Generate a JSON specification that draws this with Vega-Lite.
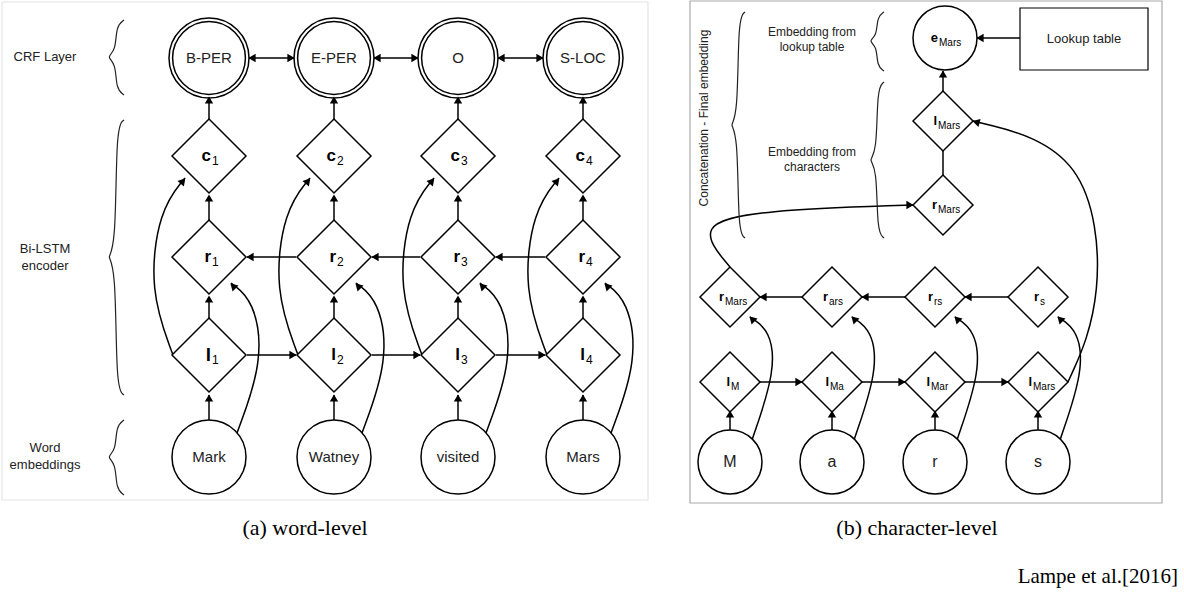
{
  "$schema": "https://vega.github.io/schema/vega-lite/v6.json",
  "width": 1184,
  "height": 595,
  "padding": 0,
  "autosize": "none",
  "background": "white",
  "config": {"view": {"stroke": null}, "font": "Liberation Sans"},
  "datasets": {
    "boxes": [
      {"x": 2, "x2": 648, "y": 2, "y2": 500, "c": "#e4e4e4"},
      {"x": 690, "x2": 1162, "y": 1, "y2": 503, "c": "#aaaaaa"},
      {"x": 1020, "x2": 1148, "y": 8, "y2": 70, "c": "#000000"}
    ],
    "nodes": [
      {"x": 209, "y": 58, "s": "circle", "z": 6400}, {"x": 209, "y": 58, "s": "circle", "z": 5300},
      {"x": 334, "y": 58, "s": "circle", "z": 6400}, {"x": 334, "y": 58, "s": "circle", "z": 5300},
      {"x": 458, "y": 58, "s": "circle", "z": 6400}, {"x": 458, "y": 58, "s": "circle", "z": 5300},
      {"x": 583, "y": 58, "s": "circle", "z": 6400}, {"x": 583, "y": 58, "s": "circle", "z": 5300},
      {"x": 209, "y": 156, "s": "diamond", "z": 5476}, {"x": 334, "y": 156, "s": "diamond", "z": 5476},
      {"x": 458, "y": 156, "s": "diamond", "z": 5476}, {"x": 583, "y": 156, "s": "diamond", "z": 5476},
      {"x": 209, "y": 257, "s": "diamond", "z": 5476}, {"x": 334, "y": 257, "s": "diamond", "z": 5476},
      {"x": 458, "y": 257, "s": "diamond", "z": 5476}, {"x": 583, "y": 257, "s": "diamond", "z": 5476},
      {"x": 209, "y": 355, "s": "diamond", "z": 5476}, {"x": 334, "y": 355, "s": "diamond", "z": 5476},
      {"x": 458, "y": 355, "s": "diamond", "z": 5476}, {"x": 583, "y": 355, "s": "diamond", "z": 5476},
      {"x": 209, "y": 457, "s": "circle", "z": 5476}, {"x": 334, "y": 457, "s": "circle", "z": 5476},
      {"x": 458, "y": 457, "s": "circle", "z": 5476}, {"x": 583, "y": 457, "s": "circle", "z": 5476},
      {"x": 945, "y": 38, "s": "circle", "z": 4096},
      {"x": 943, "y": 121, "s": "diamond", "z": 3600}, {"x": 943, "y": 205, "s": "diamond", "z": 3600},
      {"x": 730, "y": 297, "s": "diamond", "z": 3600}, {"x": 832, "y": 297, "s": "diamond", "z": 3600},
      {"x": 935, "y": 297, "s": "diamond", "z": 3600}, {"x": 1038, "y": 297, "s": "diamond", "z": 3600},
      {"x": 730, "y": 382, "s": "diamond", "z": 3600}, {"x": 832, "y": 382, "s": "diamond", "z": 3600},
      {"x": 935, "y": 382, "s": "diamond", "z": 3600}, {"x": 1038, "y": 382, "s": "diamond", "z": 3600},
      {"x": 730, "y": 462, "s": "circle", "z": 4096}, {"x": 832, "y": 462, "s": "circle", "z": 4096},
      {"x": 935, "y": 462, "s": "circle", "z": 4096}, {"x": 1038, "y": 462, "s": "circle", "z": 4096}
    ],
    "lines": [
      {"id": "a1", "k": 0, "x": 209, "y": 420}, {"id": "a1", "k": 1, "x": 209, "y": 395},
      {"id": "a2", "k": 0, "x": 334, "y": 420}, {"id": "a2", "k": 1, "x": 334, "y": 395},
      {"id": "a3", "k": 0, "x": 458, "y": 420}, {"id": "a3", "k": 1, "x": 458, "y": 395},
      {"id": "a4", "k": 0, "x": 583, "y": 420}, {"id": "a4", "k": 1, "x": 583, "y": 395},
      {"id": "b1", "k": 0, "x": 209, "y": 318}, {"id": "b1", "k": 1, "x": 209, "y": 297},
      {"id": "b2", "k": 0, "x": 334, "y": 318}, {"id": "b2", "k": 1, "x": 334, "y": 297},
      {"id": "b3", "k": 0, "x": 458, "y": 318}, {"id": "b3", "k": 1, "x": 458, "y": 297},
      {"id": "b4", "k": 0, "x": 583, "y": 318}, {"id": "b4", "k": 1, "x": 583, "y": 297},
      {"id": "c1", "k": 0, "x": 209, "y": 220}, {"id": "c1", "k": 1, "x": 209, "y": 196},
      {"id": "c2", "k": 0, "x": 334, "y": 220}, {"id": "c2", "k": 1, "x": 334, "y": 196},
      {"id": "c3", "k": 0, "x": 458, "y": 220}, {"id": "c3", "k": 1, "x": 458, "y": 196},
      {"id": "c4", "k": 0, "x": 583, "y": 220}, {"id": "c4", "k": 1, "x": 583, "y": 196},
      {"id": "d1", "k": 0, "x": 209, "y": 119}, {"id": "d1", "k": 1, "x": 209, "y": 98},
      {"id": "d2", "k": 0, "x": 334, "y": 119}, {"id": "d2", "k": 1, "x": 334, "y": 98},
      {"id": "d3", "k": 0, "x": 458, "y": 119}, {"id": "d3", "k": 1, "x": 458, "y": 98},
      {"id": "d4", "k": 0, "x": 583, "y": 119}, {"id": "d4", "k": 1, "x": 583, "y": 98},
      {"id": "e1", "k": 0, "x": 173, "y": 355}, {"id": "e1", "k": 1, "x": 149, "y": 290}, {"id": "e1", "k": 2, "x": 159, "y": 210}, {"id": "e1", "k": 3, "x": 185, "y": 178},
      {"id": "e2", "k": 0, "x": 298, "y": 355}, {"id": "e2", "k": 1, "x": 274, "y": 290}, {"id": "e2", "k": 2, "x": 284, "y": 210}, {"id": "e2", "k": 3, "x": 310, "y": 178},
      {"id": "e3", "k": 0, "x": 422, "y": 355}, {"id": "e3", "k": 1, "x": 398, "y": 290}, {"id": "e3", "k": 2, "x": 408, "y": 210}, {"id": "e3", "k": 3, "x": 434, "y": 178},
      {"id": "e4", "k": 0, "x": 547, "y": 355}, {"id": "e4", "k": 1, "x": 523, "y": 290}, {"id": "e4", "k": 2, "x": 533, "y": 210}, {"id": "e4", "k": 3, "x": 559, "y": 178},
      {"id": "f1", "k": 0, "x": 237, "y": 433}, {"id": "f1", "k": 1, "x": 264, "y": 360}, {"id": "f1", "k": 2, "x": 254, "y": 300}, {"id": "f1", "k": 3, "x": 231, "y": 283},
      {"id": "f2", "k": 0, "x": 362, "y": 433}, {"id": "f2", "k": 1, "x": 389, "y": 360}, {"id": "f2", "k": 2, "x": 379, "y": 300}, {"id": "f2", "k": 3, "x": 356, "y": 283},
      {"id": "f3", "k": 0, "x": 486, "y": 433}, {"id": "f3", "k": 1, "x": 513, "y": 360}, {"id": "f3", "k": 2, "x": 503, "y": 300}, {"id": "f3", "k": 3, "x": 480, "y": 283},
      {"id": "f4", "k": 0, "x": 611, "y": 433}, {"id": "f4", "k": 1, "x": 638, "y": 360}, {"id": "f4", "k": 2, "x": 628, "y": 300}, {"id": "f4", "k": 3, "x": 605, "y": 283},
      {"id": "g1", "k": 0, "x": 247, "y": 355}, {"id": "g1", "k": 1, "x": 296, "y": 355},
      {"id": "g2", "k": 0, "x": 372, "y": 355}, {"id": "g2", "k": 1, "x": 420, "y": 355},
      {"id": "g3", "k": 0, "x": 496, "y": 355}, {"id": "g3", "k": 1, "x": 545, "y": 355},
      {"id": "h1", "k": 0, "x": 247, "y": 257}, {"id": "h1", "k": 1, "x": 296, "y": 257},
      {"id": "h2", "k": 0, "x": 372, "y": 257}, {"id": "h2", "k": 1, "x": 420, "y": 257},
      {"id": "h3", "k": 0, "x": 496, "y": 257}, {"id": "h3", "k": 1, "x": 545, "y": 257},
      {"id": "i1", "k": 0, "x": 249, "y": 58}, {"id": "i1", "k": 1, "x": 294, "y": 58},
      {"id": "i2", "k": 0, "x": 374, "y": 58}, {"id": "i2", "k": 1, "x": 418, "y": 58},
      {"id": "i3", "k": 0, "x": 498, "y": 58}, {"id": "i3", "k": 1, "x": 543, "y": 58},
      {"id": "j1", "k": 0, "x": 730, "y": 430}, {"id": "j1", "k": 1, "x": 730, "y": 412},
      {"id": "j2", "k": 0, "x": 832, "y": 430}, {"id": "j2", "k": 1, "x": 832, "y": 412},
      {"id": "j3", "k": 0, "x": 935, "y": 430}, {"id": "j3", "k": 1, "x": 935, "y": 412},
      {"id": "j4", "k": 0, "x": 1038, "y": 430}, {"id": "j4", "k": 1, "x": 1038, "y": 412},
      {"id": "m1", "k": 0, "x": 752, "y": 440}, {"id": "m1", "k": 1, "x": 776, "y": 370}, {"id": "m1", "k": 2, "x": 770, "y": 330}, {"id": "m1", "k": 3, "x": 750, "y": 317},
      {"id": "m2", "k": 0, "x": 854, "y": 440}, {"id": "m2", "k": 1, "x": 878, "y": 370}, {"id": "m2", "k": 2, "x": 872, "y": 330}, {"id": "m2", "k": 3, "x": 852, "y": 317},
      {"id": "m3", "k": 0, "x": 957, "y": 440}, {"id": "m3", "k": 1, "x": 981, "y": 370}, {"id": "m3", "k": 2, "x": 975, "y": 330}, {"id": "m3", "k": 3, "x": 955, "y": 317},
      {"id": "m4", "k": 0, "x": 1060, "y": 440}, {"id": "m4", "k": 1, "x": 1084, "y": 370}, {"id": "m4", "k": 2, "x": 1078, "y": 330}, {"id": "m4", "k": 3, "x": 1058, "y": 317},
      {"id": "n1", "k": 0, "x": 760, "y": 382}, {"id": "n1", "k": 1, "x": 802, "y": 382},
      {"id": "n2", "k": 0, "x": 862, "y": 382}, {"id": "n2", "k": 1, "x": 905, "y": 382},
      {"id": "n3", "k": 0, "x": 965, "y": 382}, {"id": "n3", "k": 1, "x": 1008, "y": 382},
      {"id": "o1", "k": 0, "x": 760, "y": 297}, {"id": "o1", "k": 1, "x": 802, "y": 297},
      {"id": "o2", "k": 0, "x": 862, "y": 297}, {"id": "o2", "k": 1, "x": 905, "y": 297},
      {"id": "o3", "k": 0, "x": 965, "y": 297}, {"id": "o3", "k": 1, "x": 1008, "y": 297},
      {"id": "p1", "k": 0, "x": 1068, "y": 382}, {"id": "p1", "k": 1, "x": 1105, "y": 300}, {"id": "p1", "k": 2, "x": 1090, "y": 150}, {"id": "p1", "k": 3, "x": 973, "y": 121},
      {"id": "p2", "k": 0, "x": 730, "y": 267}, {"id": "p2", "k": 1, "x": 695, "y": 225}, {"id": "p2", "k": 2, "x": 760, "y": 210}, {"id": "p2", "k": 3, "x": 913, "y": 205},
      {"id": "p3", "k": 0, "x": 943, "y": 175}, {"id": "p3", "k": 1, "x": 943, "y": 151},
      {"id": "p4", "k": 0, "x": 943, "y": 91}, {"id": "p4", "k": 1, "x": 943, "y": 71},
      {"id": "p5", "k": 0, "x": 1020, "y": 38}, {"id": "p5", "k": 1, "x": 977, "y": 38}
    ],
    "braces": [
      {"id": "q1", "k": 0, "x": 124, "y": 20}, {"id": "q1", "k": 1, "x": 116, "y": 26}, {"id": "q1", "k": 2, "x": 116, "y": 51}, {"id": "q1", "k": 3, "x": 106, "y": 57}, {"id": "q1", "k": 4, "x": 116, "y": 63}, {"id": "q1", "k": 5, "x": 116, "y": 89}, {"id": "q1", "k": 6, "x": 124, "y": 95},
      {"id": "q2", "k": 0, "x": 124, "y": 120}, {"id": "q2", "k": 1, "x": 116, "y": 126}, {"id": "q2", "k": 2, "x": 116, "y": 251}, {"id": "q2", "k": 3, "x": 106, "y": 257}, {"id": "q2", "k": 4, "x": 116, "y": 263}, {"id": "q2", "k": 5, "x": 116, "y": 389}, {"id": "q2", "k": 6, "x": 124, "y": 395},
      {"id": "q3", "k": 0, "x": 124, "y": 420}, {"id": "q3", "k": 1, "x": 116, "y": 426}, {"id": "q3", "k": 2, "x": 116, "y": 451}, {"id": "q3", "k": 3, "x": 106, "y": 457}, {"id": "q3", "k": 4, "x": 116, "y": 463}, {"id": "q3", "k": 5, "x": 116, "y": 489}, {"id": "q3", "k": 6, "x": 124, "y": 495},
      {"id": "q4", "k": 0, "x": 884, "y": 12}, {"id": "q4", "k": 1, "x": 877, "y": 17}, {"id": "q4", "k": 2, "x": 877, "y": 36}, {"id": "q4", "k": 3, "x": 868, "y": 41}, {"id": "q4", "k": 4, "x": 877, "y": 46}, {"id": "q4", "k": 5, "x": 877, "y": 66}, {"id": "q4", "k": 6, "x": 884, "y": 71},
      {"id": "q5", "k": 0, "x": 884, "y": 82}, {"id": "q5", "k": 1, "x": 877, "y": 88}, {"id": "q5", "k": 2, "x": 877, "y": 154}, {"id": "q5", "k": 3, "x": 868, "y": 160}, {"id": "q5", "k": 4, "x": 877, "y": 166}, {"id": "q5", "k": 5, "x": 877, "y": 232}, {"id": "q5", "k": 6, "x": 884, "y": 238},
      {"id": "q6", "k": 0, "x": 745, "y": 12}, {"id": "q6", "k": 1, "x": 738, "y": 18}, {"id": "q6", "k": 2, "x": 738, "y": 119}, {"id": "q6", "k": 3, "x": 729, "y": 125}, {"id": "q6", "k": 4, "x": 738, "y": 131}, {"id": "q6", "k": 5, "x": 738, "y": 232}, {"id": "q6", "k": 6, "x": 745, "y": 238}
    ],
    "heads": [
      {"x": 209, "y": 398, "a": 0}, {"x": 334, "y": 398, "a": 0}, {"x": 458, "y": 398, "a": 0}, {"x": 583, "y": 398, "a": 0},
      {"x": 209, "y": 299, "a": 0}, {"x": 334, "y": 299, "a": 0}, {"x": 458, "y": 299, "a": 0}, {"x": 583, "y": 299, "a": 0},
      {"x": 209, "y": 198, "a": 0}, {"x": 334, "y": 198, "a": 0}, {"x": 458, "y": 198, "a": 0}, {"x": 583, "y": 198, "a": 0},
      {"x": 209, "y": 100, "a": 0}, {"x": 334, "y": 100, "a": 0}, {"x": 458, "y": 100, "a": 0}, {"x": 583, "y": 100, "a": 0},
      {"x": 183, "y": 181, "a": 40}, {"x": 308, "y": 181, "a": 40}, {"x": 432, "y": 181, "a": 40}, {"x": 557, "y": 181, "a": 40},
      {"x": 233, "y": 286, "a": -45}, {"x": 358, "y": 286, "a": -45}, {"x": 482, "y": 286, "a": -45}, {"x": 607, "y": 286, "a": -45},
      {"x": 293, "y": 355, "a": 90}, {"x": 417, "y": 355, "a": 90}, {"x": 542, "y": 355, "a": 90},
      {"x": 250, "y": 257, "a": -90}, {"x": 375, "y": 257, "a": -90}, {"x": 499, "y": 257, "a": -90},
      {"x": 291, "y": 58, "a": 90}, {"x": 415, "y": 58, "a": 90}, {"x": 540, "y": 58, "a": 90},
      {"x": 252, "y": 58, "a": -90}, {"x": 377, "y": 58, "a": -90}, {"x": 501, "y": 58, "a": -90},
      {"x": 730, "y": 414, "a": 0}, {"x": 832, "y": 414, "a": 0}, {"x": 935, "y": 414, "a": 0}, {"x": 1038, "y": 414, "a": 0},
      {"x": 752, "y": 319, "a": -45}, {"x": 854, "y": 319, "a": -45}, {"x": 957, "y": 319, "a": -45}, {"x": 1060, "y": 319, "a": -45},
      {"x": 799, "y": 382, "a": 90}, {"x": 902, "y": 382, "a": 90}, {"x": 1005, "y": 382, "a": 90},
      {"x": 763, "y": 297, "a": -90}, {"x": 865, "y": 297, "a": -90}, {"x": 968, "y": 297, "a": -90},
      {"x": 976, "y": 122, "a": -75}, {"x": 910, "y": 205, "a": 90},
      {"x": 943, "y": 74, "a": 0}, {"x": 980, "y": 38, "a": -90}
    ],
    "texts": [
      {"t": "B-PER", "x": 209, "y": 58, "z": 15}, {"t": "E-PER", "x": 334, "y": 58, "z": 15},
      {"t": "O", "x": 458, "y": 58, "z": 15}, {"t": "S-LOC", "x": 583, "y": 58, "z": 15},
      {"t": "Mark", "x": 209, "y": 457, "z": 15}, {"t": "Watney", "x": 334, "y": 457, "z": 15},
      {"t": "visited", "x": 458, "y": 457, "z": 15}, {"t": "Mars", "x": 583, "y": 457, "z": 15},
      {"t": "CRF Layer", "x": 45, "y": 57, "z": 13},
      {"t": "Bi-LSTM", "x": 45, "y": 249, "z": 13}, {"t": "encoder", "x": 45, "y": 266, "z": 13},
      {"t": "Word", "x": 45, "y": 448, "z": 13}, {"t": "embeddings", "x": 45, "y": 465, "z": 13},
      {"t": "M", "x": 730, "y": 462, "z": 16}, {"t": "a", "x": 832, "y": 462, "z": 16},
      {"t": "r", "x": 935, "y": 462, "z": 16}, {"t": "s", "x": 1038, "y": 462, "z": 16},
      {"t": "Lookup table", "x": 1084, "y": 39, "z": 13},
      {"t": "Embedding from", "x": 812, "y": 32, "z": 12}, {"t": "lookup table", "x": 812, "y": 47, "z": 12},
      {"t": "Embedding from", "x": 812, "y": 152, "z": 12}, {"t": "characters", "x": 812, "y": 167, "z": 12}
    ],
    "subs": [
      {"m": "c", "s": "1", "x": 211, "y": 156, "z": 17, "w": 12}, {"m": "c", "s": "2", "x": 336, "y": 156, "z": 17, "w": 12},
      {"m": "c", "s": "3", "x": 460, "y": 156, "z": 17, "w": 12}, {"m": "c", "s": "4", "x": 585, "y": 156, "z": 17, "w": 12},
      {"m": "r", "s": "1", "x": 211, "y": 257, "z": 17, "w": 12}, {"m": "r", "s": "2", "x": 336, "y": 257, "z": 17, "w": 12},
      {"m": "r", "s": "3", "x": 460, "y": 257, "z": 17, "w": 12}, {"m": "r", "s": "4", "x": 585, "y": 257, "z": 17, "w": 12},
      {"m": "l", "s": "1", "x": 211, "y": 355, "z": 19, "w": 12}, {"m": "l", "s": "2", "x": 336, "y": 355, "z": 17, "w": 12},
      {"m": "l", "s": "3", "x": 460, "y": 355, "z": 17, "w": 12}, {"m": "l", "s": "4", "x": 585, "y": 355, "z": 17, "w": 12},
      {"m": "e", "s": "Mars", "x": 938, "y": 38, "z": 13, "w": 10},
      {"m": "l", "s": "Mars", "x": 937, "y": 121, "z": 13, "w": 10},
      {"m": "r", "s": "Mars", "x": 937, "y": 205, "z": 13, "w": 10},
      {"m": "r", "s": "Mars", "x": 724, "y": 297, "z": 13, "w": 10},
      {"m": "r", "s": "ars", "x": 828, "y": 297, "z": 13, "w": 10},
      {"m": "r", "s": "rs", "x": 933, "y": 297, "z": 13, "w": 10},
      {"m": "r", "s": "s", "x": 1039, "y": 297, "z": 13, "w": 10},
      {"m": "l", "s": "M", "x": 730, "y": 382, "z": 13, "w": 10},
      {"m": "l", "s": "Ma", "x": 829, "y": 382, "z": 13, "w": 10},
      {"m": "l", "s": "Mar", "x": 930, "y": 382, "z": 13, "w": 10},
      {"m": "l", "s": "Mars", "x": 1032, "y": 382, "z": 13, "w": 10}
    ],
    "captions": [
      {"t": "(a) word-level", "x": 305, "y": 528},
      {"t": "(b) character-level", "x": 917, "y": 528}
    ],
    "credit": [{"t": "Lampe et al.[2016]", "x": 1178, "y": 577}],
    "vert": [{"t": "Concatenation - Final embedding", "x": 704, "y": 118}]
  },
  "encoding": {
    "x": {"field": "x", "type": "quantitative", "scale": {"domain": [0, 1184], "range": [0, 1184]}, "axis": null},
    "y": {"field": "y", "type": "quantitative", "scale": {"domain": [0, 595], "range": [0, 595]}, "axis": null}
  },
  "layer": [
    {
      "data": {"name": "boxes"},
      "mark": {"type": "rect", "fill": null, "strokeWidth": 1.2},
      "encoding": {
        "x2": {"field": "x2"},
        "y2": {"field": "y2"},
        "stroke": {"field": "c", "type": "nominal", "scale": null}
      }
    },
    {
      "data": {"name": "lines"},
      "mark": {"type": "line", "interpolate": "basis", "color": "black", "strokeWidth": 1.5},
      "encoding": {"detail": {"field": "id"}, "order": {"field": "k", "type": "quantitative"}}
    },
    {
      "data": {"name": "braces"},
      "mark": {"type": "line", "interpolate": "basis", "color": "#222", "strokeWidth": 1.2},
      "encoding": {"detail": {"field": "id"}, "order": {"field": "k", "type": "quantitative"}}
    },
    {
      "data": {"name": "nodes"},
      "mark": {"type": "point", "filled": false, "fill": "white", "fillOpacity": 1, "stroke": "black", "strokeWidth": 1.5, "opacity": 1},
      "encoding": {
        "shape": {"field": "s", "type": "nominal", "scale": null},
        "size": {"field": "z", "type": "quantitative", "scale": null}
      }
    },
    {
      "data": {"name": "heads"},
      "mark": {"type": "point", "shape": "triangle-up", "filled": true, "color": "black", "size": 70, "opacity": 1},
      "encoding": {"angle": {"field": "a", "type": "quantitative", "scale": null}}
    },
    {
      "data": {"name": "texts"},
      "mark": {"type": "text", "color": "#222", "baseline": "middle", "align": "center"},
      "encoding": {"text": {"field": "t"}, "size": {"field": "z", "type": "quantitative", "scale": null}}
    },
    {
      "data": {"name": "subs"},
      "mark": {"type": "text", "color": "black", "baseline": "middle", "align": "right", "fontWeight": "bold"},
      "encoding": {"text": {"field": "m"}, "size": {"field": "z", "type": "quantitative", "scale": null}}
    },
    {
      "data": {"name": "subs"},
      "mark": {"type": "text", "color": "black", "baseline": "middle", "align": "left", "dy": 5, "dx": 1},
      "encoding": {"text": {"field": "s"}, "size": {"field": "w", "type": "quantitative", "scale": null}}
    },
    {
      "data": {"name": "captions"},
      "mark": {"type": "text", "font": "Liberation Serif", "fontSize": 22, "color": "black", "baseline": "middle", "align": "center"},
      "encoding": {"text": {"field": "t"}}
    },
    {
      "data": {"name": "credit"},
      "mark": {"type": "text", "font": "Liberation Serif", "fontSize": 21, "color": "black", "baseline": "middle", "align": "right"},
      "encoding": {"text": {"field": "t"}}
    },
    {
      "data": {"name": "vert"},
      "mark": {"type": "text", "angle": 270, "fontSize": 12, "color": "#222", "baseline": "middle", "align": "center"},
      "encoding": {"text": {"field": "t"}}
    }
  ]
}
